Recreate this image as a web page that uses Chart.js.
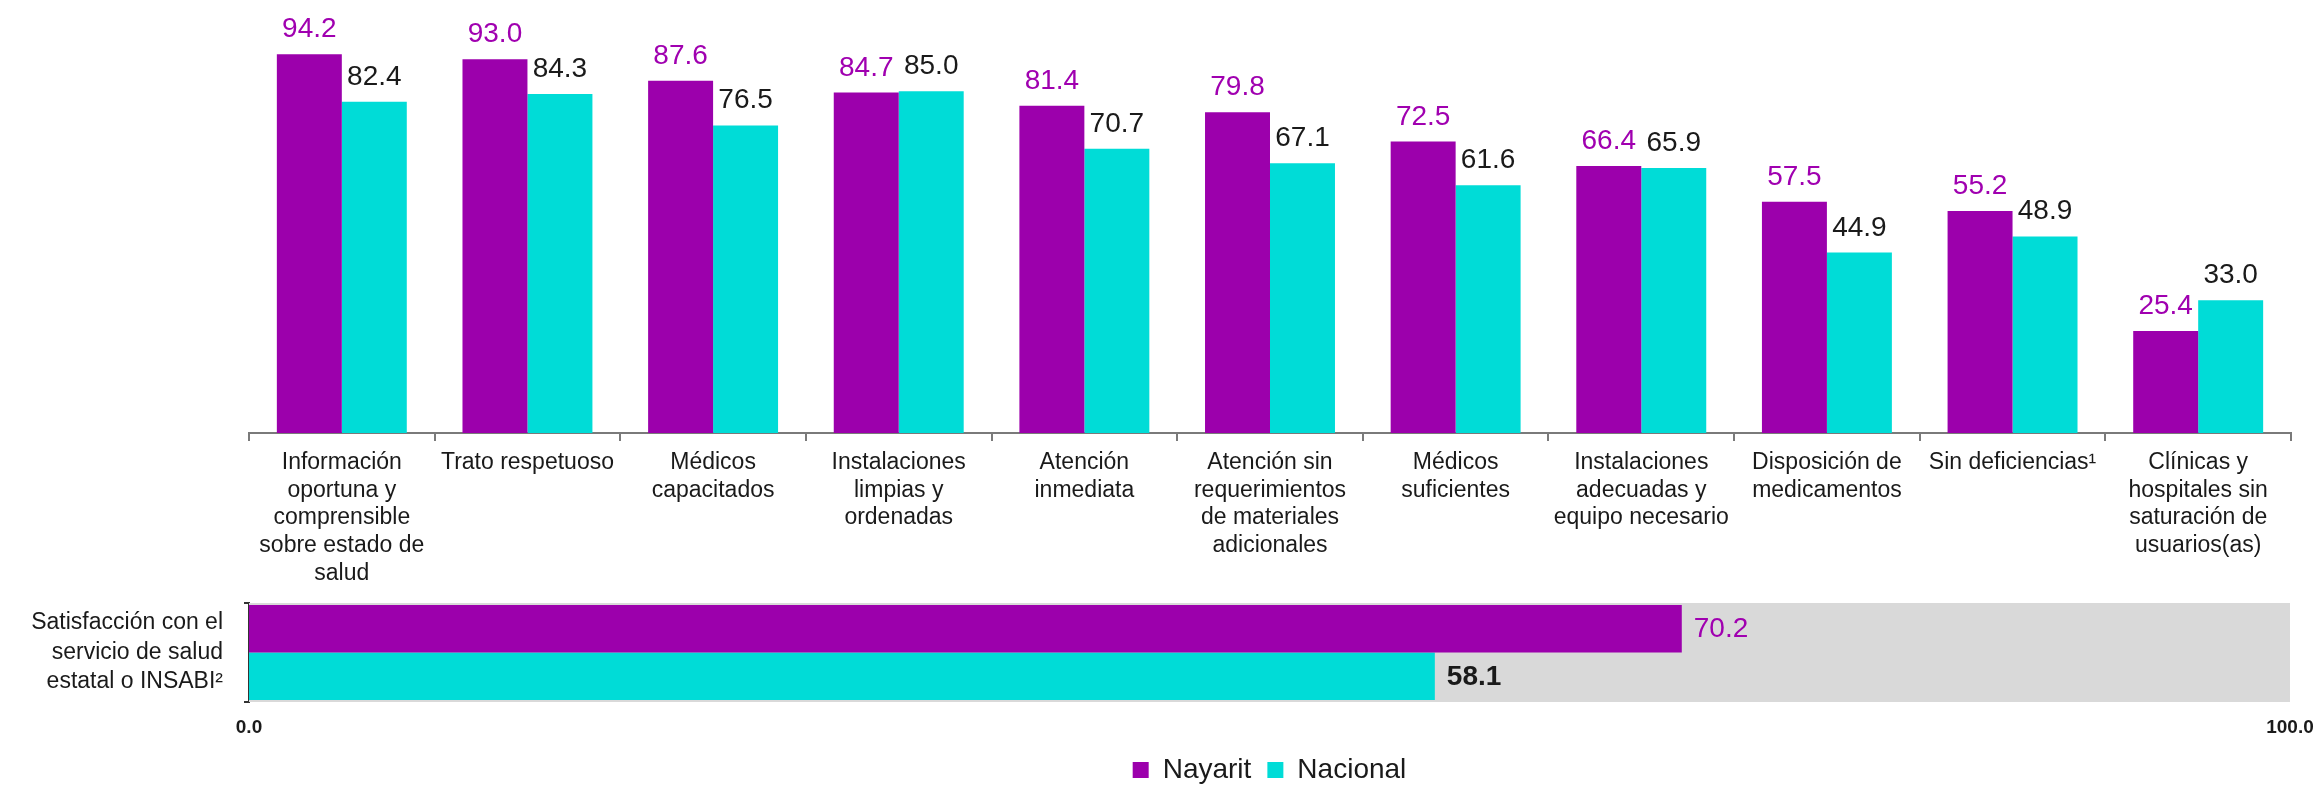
<!DOCTYPE html>
<html lang="es">
<head>
<meta charset="utf-8">
<title>Satisfacción con el servicio de salud</title>
<script src="https://cdn.jsdelivr.net/npm/chart.js@4.4.1/dist/chart.umd.min.js"></script>
<style>
  html, body { margin: 0; padding: 0; background: #fff; overflow: hidden; }
  #topChart { position: absolute; left: 0; top: 0; }
  #bottomChart { position: absolute; left: 0; top: 585px; }
</style>
</head>
<body>
<canvas id="topChart" width="2321" height="600"></canvas>
<canvas id="bottomChart" width="2321" height="200"></canvas>
<script>
// categories, already split in lines as in the original
const categories = [
  ["Información", "oportuna y", "comprensible", "sobre estado de", "salud"],
  ["Trato respetuoso"],
  ["Médicos", "capacitados"],
  ["Instalaciones", "limpias y", "ordenadas"],
  ["Atención", "inmediata"],
  ["Atención sin", "requerimientos", "de materiales", "adicionales"],
  ["Médicos", "suficientes"],
  ["Instalaciones", "adecuadas y", "equipo necesario"],
  ["Disposición de", "medicamentos"],
  ["Sin deficiencias¹"],
  ["Clínicas y", "hospitales sin", "saturación de", "usuarios(as)"],
];
const nayarit = [94.2, 93.0, 87.6, 84.7, 81.4, 79.8, 72.5, 66.4, 57.5, 55.2, 25.4];
const nacional = [82.4, 84.3, 76.5, 85.0, 70.7, 67.1, 61.6, 65.9, 44.9, 48.9, 33.0];

const satisfLabel = ["Satisfacción con el", "servicio de salud", "estatal o INSABI²"];
const satisfNayarit = [70.2];
const satisfNacional = [58.1];
const bottomTicks = [0, 100];

const PURPLE = "#9c00ac";
const CYAN = "#00dcd7";
const FONT = '"Liberation Sans", Arial, sans-serif';

// numbers above the columns
const columnLabels = {
  id: "columnLabels",
  afterDatasetsDraw(chart) {
    const ctx = chart.ctx;
    const colors = ["#a000b0", "#1a1a1a"];
    ctx.save();
    ctx.font = "28px " + FONT;
    ctx.textAlign = "center";
    ctx.textBaseline = "alphabetic";
    chart.data.datasets.forEach((ds, i) => {
      chart.getDatasetMeta(i).data.forEach((bar, j) => {
        ctx.fillStyle = colors[i];
        ctx.fillText(ds.data[j].toFixed(1), bar.x, bar.y - 17);
      });
    });
    ctx.restore();
  },
};

// grey 0-100 track and numbers at the end of the bars
const trackAndLabels = {
  id: "trackAndLabels",
  beforeDatasetsDraw(chart) {
    const { ctx, chartArea, scales } = chart;
    const x0 = scales.x.getPixelForValue(0);
    const x1 = scales.x.getPixelForValue(100);
    ctx.save();
    ctx.fillStyle = "#d9d9d9";
    ctx.fillRect(x0, chartArea.top, x1 - x0, chartArea.bottom - chartArea.top);
    ctx.restore();
  },
  afterDatasetsDraw(chart) {
    const ctx = chart.ctx;
    const styles = [
      { color: "#a000b0", font: "28px " + FONT },
      { color: "#1a1a1a", font: "bold 28px " + FONT },
    ];
    ctx.save();
    ctx.textAlign = "left";
    ctx.textBaseline = "middle";
    chart.data.datasets.forEach((ds, i) => {
      chart.getDatasetMeta(i).data.forEach((bar, j) => {
        ctx.fillStyle = styles[i].color;
        ctx.font = styles[i].font;
        ctx.fillText(ds.data[j].toFixed(1), bar.x + 12, bar.y + 1);
      });
    });
    ctx.restore();
  },
};

Chart.defaults.font.family = FONT;
Chart.defaults.animation = false;

new Chart(document.getElementById("topChart"), {
  type: "bar",
  data: {
    labels: categories,
    datasets: [
      { label: "Nayarit", data: nayarit, backgroundColor: PURPLE },
      { label: "Nacional", data: nacional, backgroundColor: CYAN },
    ],
  },
  options: {
    responsive: false,
    categoryPercentage: 0.7,
    barPercentage: 1.0,
    layout: { padding: { left: 249, right: 30, top: 31, bottom: 0 } },
    plugins: {
      legend: { display: false },
      tooltip: { enabled: false },
    },
    scales: {
      x: {
        grid: {
          offset: true,
          drawOnChartArea: false,
          color: "#7a7a7a",
          lineWidth: 2,
          tickLength: 8,
        },
        border: { color: "#7a7a7a", width: 2 },
        ticks: {
          autoSkip: false,
          maxRotation: 0,
          padding: 8,
          color: "#1a1a1a",
          font: { size: 23, lineHeight: 1.2 },
        },
        afterFit: (scale) => { scale.height = 167; },
      },
      y: { display: false, min: 0, max: 100 },
    },
  },
  plugins: [columnLabels],
});

new Chart(document.getElementById("bottomChart"), {
  type: "bar",
  data: {
    labels: [satisfLabel],
    datasets: [
      { label: "Nayarit", data: satisfNayarit, backgroundColor: PURPLE },
      { label: "Nacional", data: satisfNacional, backgroundColor: CYAN },
    ],
  },
  options: {
    responsive: false,
    indexAxis: "y",
    categoryPercentage: 0.96,
    barPercentage: 1.0,
    layout: { padding: { left: 0, right: 31, top: 18, bottom: 0 } },
    plugins: {
      tooltip: { enabled: false },
      legend: {
        position: "bottom",
        fullSize: false,
        maxHeight: 45,
        labels: {
          boxWidth: 16,
          boxHeight: 16,
          padding: 16,
          color: "#1a1a1a",
          font: { size: 28 },
        },
      },
    },
    scales: {
      x: {
        min: 0,
        max: 100,
        grid: { display: false, drawTicks: false },
        border: { display: false },
        afterBuildTicks: (scale) => { scale.ticks = bottomTicks.map((v) => ({ value: v })); },
        ticks: {
          padding: 14,
          color: "#1a1a1a",
          font: { size: 19, weight: "bold" },
          callback: (v) => Number(v).toFixed(1),
        },
        afterFit: (scale) => {
          scale.height = 38;
          scale.paddingLeft = 0;
          scale.paddingRight = 0;
        },
      },
      y: {
        grid: {
          offset: true,
          drawOnChartArea: false,
          color: "#333",
          lineWidth: 2,
          tickLength: 5,
        },
        border: { color: "#333", width: 2 },
        ticks: {
          padding: 21,
          color: "#1a1a1a",
          font: { size: 23, lineHeight: 1.28 },
        },
        afterFit: (scale) => {
          scale.width = 249;
          scale.paddingTop = 0;
          scale.paddingBottom = 0;
        },
      },
    },
  },
  plugins: [trackAndLabels],
});
</script>
</body>
</html>
